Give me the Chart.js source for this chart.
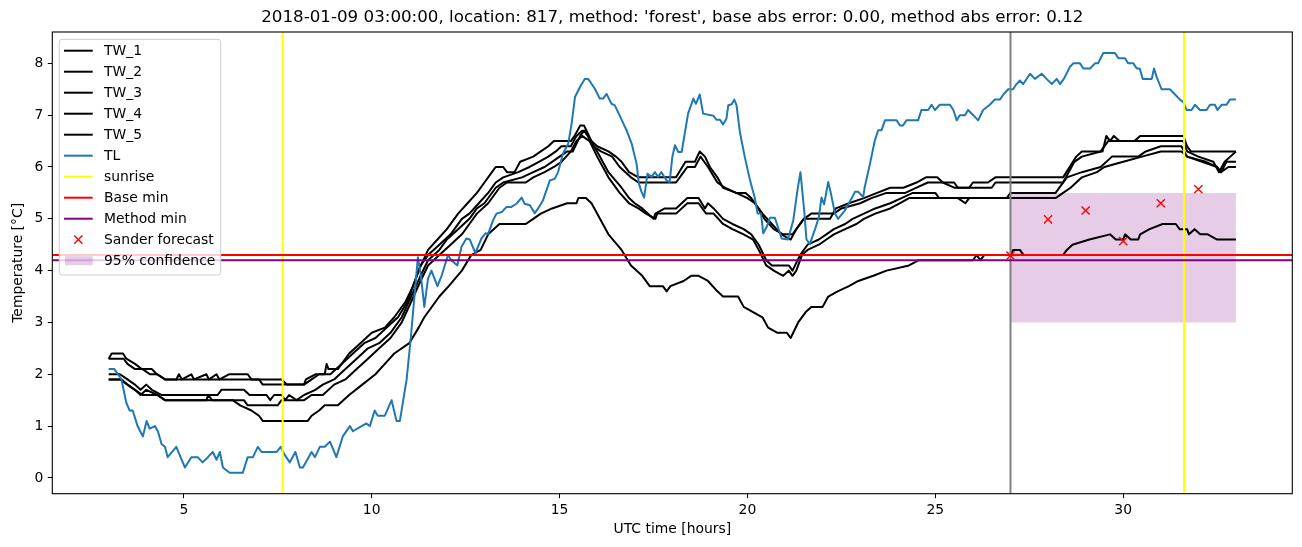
<!DOCTYPE html>
<html><head><meta charset="utf-8">
<script src="https://cdn.jsdelivr.net/npm/chart.js@4.4.1/dist/chart.umd.min.js"></script>
<style>html,body{margin:0;padding:0;background:#fff;}canvas{display:block;}</style>
</head><body>
<canvas id="c" width="1302" height="547"></canvas>
<script>
// ---------------- data ----------------
const titleText = "2018-01-09 03:00:00, location: 817, method: 'forest', base abs error: 0.00, method abs error: 0.12";

const TW_1 = [[3.0,2.3],[3.08,2.4],[3.38,2.4],[3.47,2.3],[3.7,2.2],[3.88,2.1],[4.15,2.1],[4.28,2.0],[4.5,1.9],[4.8,1.9],[4.87,2.0],[4.95,1.9],[5.2,2.0],[5.27,1.9],[5.6,2.0],[5.67,1.9],[5.87,2.0],[5.95,1.9],[6.2,2.0],[6.7,2.0],[6.8,1.9],[7.6,1.9],[7.75,1.8],[8.2,1.8],[8.25,1.9],[8.5,2.0],[8.75,2.0],[8.8,2.2],[8.85,2.1],[9.1,2.1],[9.4,2.4],[9.7,2.6],[10.0,2.8],[10.35,2.9],[10.6,3.1],[10.9,3.4],[11.1,3.7],[11.25,4.0],[11.5,4.4],[11.75,4.6],[12.0,4.8],[12.3,5.1],[12.55,5.3],[12.8,5.5],[13.0,5.7],[13.2,5.9],[13.3,6.0],[13.5,6.0],[13.6,5.9],[13.8,5.9],[13.95,6.1],[14.3,6.2],[14.5,6.3],[14.7,6.4],[14.85,6.5],[15.3,6.5],[15.4,6.6],[15.55,6.8],[15.65,6.8],[15.85,6.5],[16.0,6.4],[16.3,6.3],[16.5,6.2],[16.65,6.1],[16.85,5.9],[17.1,5.8],[18.1,5.8],[18.35,6.1],[18.6,6.1],[18.73,6.3],[18.87,6.2],[19.0,6.0],[19.2,5.8],[19.35,5.6],[19.7,5.5],[19.95,5.5],[20.1,5.4],[20.4,5.1],[20.65,4.9],[20.9,4.7],[21.15,4.6],[21.3,4.8],[21.5,5.0],[22.2,5.0],[22.35,5.2],[22.7,5.3],[23.1,5.4],[23.45,5.5],[23.8,5.6],[24.15,5.6],[24.5,5.7],[24.75,5.8],[25.05,5.8],[25.2,5.7],[25.5,5.7],[25.6,5.6],[25.9,5.6],[26.0,5.7],[26.4,5.7],[26.6,5.8],[28.4,5.8],[28.75,6.2],[28.9,6.3],[29.45,6.3],[29.55,6.6],[29.65,6.5],[29.75,6.6],[29.9,6.5],[30.3,6.5],[30.45,6.6],[31.6,6.6],[31.7,6.4],[31.8,6.3],[33.0,6.3]];

const TW_2 = [[3.0,2.3],[3.4,2.3],[3.5,2.2],[3.7,2.1],[3.9,2.1],[4.1,2.0],[4.3,2.0],[4.5,1.9],[7.0,1.9],[7.1,1.8],[8.2,1.8],[8.4,1.9],[8.6,2.0],[8.9,2.0],[9.2,2.2],[9.5,2.4],[9.8,2.6],[10.1,2.7],[10.4,2.9],[10.7,3.1],[10.95,3.4],[11.15,3.8],[11.3,4.1],[11.5,4.3],[11.8,4.5],[12.1,4.7],[12.4,5.0],[12.6,5.1],[12.85,5.3],[13.1,5.5],[13.3,5.7],[13.5,5.8],[13.9,5.9],[14.2,6.0],[14.45,6.1],[14.7,6.2],[14.9,6.3],[15.05,6.4],[15.3,6.4],[15.45,6.6],[15.6,6.7],[15.7,6.7],[15.9,6.4],[16.1,6.3],[16.4,6.2],[16.6,6.0],[16.9,5.8],[17.1,5.7],[18.1,5.7],[18.3,5.9],[18.4,6.0],[18.6,6.0],[18.75,6.2],[18.95,6.0],[19.2,5.7],[19.4,5.6],[19.7,5.5],[20.0,5.4],[20.2,5.3],[20.45,5.0],[20.7,4.8],[20.95,4.7],[21.2,4.7],[21.5,5.0],[21.7,5.1],[22.3,5.1],[22.5,5.2],[23.0,5.3],[23.3,5.4],[23.7,5.5],[24.2,5.5],[24.5,5.6],[24.8,5.7],[25.2,5.7],[25.5,5.6],[26.5,5.6],[26.6,5.7],[28.4,5.7],[28.7,6.1],[28.9,6.2],[29.4,6.3],[29.6,6.5],[31.6,6.5],[31.7,6.3],[32.0,6.2],[32.4,6.1],[32.55,5.9],[32.7,6.1],[32.85,6.2],[33.0,6.3]];

const TW_3 = [[3.0,2.0],[3.3,2.0],[3.5,1.9],[3.7,1.8],[3.85,1.7],[4.0,1.8],[4.15,1.7],[4.4,1.6],[5.9,1.6],[6.0,1.7],[6.6,1.7],[6.75,1.6],[7.2,1.6],[7.3,1.5],[7.4,1.6],[7.6,1.6],[7.7,1.5],[7.8,1.6],[8.0,1.5],[8.2,1.6],[8.5,1.7],[8.7,1.8],[9.0,1.9],[9.3,2.1],[9.6,2.3],[9.9,2.5],[10.2,2.6],[10.5,2.8],[10.8,3.1],[11.05,3.5],[11.3,3.9],[11.5,4.2],[11.8,4.4],[12.0,4.6],[12.3,4.8],[12.6,5.0],[12.8,5.2],[13.0,5.3],[13.3,5.6],[13.5,5.7],[14.0,5.8],[14.3,5.9],[14.6,6.0],[14.8,6.1],[15.0,6.2],[15.2,6.3],[15.35,6.3],[15.55,6.6],[15.65,6.7],[15.75,6.6],[16.0,6.3],[16.3,5.9],[16.65,5.6],[16.85,5.4],[17.0,5.3],[17.2,5.2],[17.5,5.0],[17.55,5.1],[17.8,5.2],[18.1,5.2],[18.4,5.4],[18.7,5.4],[18.87,5.2],[18.95,5.3],[19.1,5.2],[19.35,5.0],[19.6,4.9],[19.9,4.8],[20.1,4.7],[20.3,4.5],[20.5,4.2],[20.65,4.1],[21.1,4.1],[21.2,4.0],[21.4,4.3],[21.6,4.5],[21.9,4.6],[22.1,4.7],[22.3,4.8],[22.6,4.9],[22.8,5.0],[23.1,5.1],[23.4,5.2],[23.8,5.3],[24.1,5.4],[24.4,5.5],[25.0,5.5],[25.1,5.4],[26.9,5.4],[27.0,5.5],[28.2,5.5],[28.5,5.8],[28.9,5.9],[29.4,6.0],[29.7,6.2],[30.4,6.2],[30.6,6.3],[31.0,6.4],[31.55,6.4],[31.7,6.2],[32.1,6.1],[32.5,6.0],[32.6,5.9],[32.75,6.1],[33.0,6.1]];

const TW_4 = [[3.0,1.9],[3.35,1.9],[3.5,1.8],[3.7,1.7],[3.85,1.6],[4.0,1.7],[4.3,1.6],[4.5,1.5],[5.6,1.5],[5.65,1.6],[5.75,1.5],[6.6,1.5],[6.7,1.4],[7.5,1.4],[7.6,1.5],[8.2,1.5],[8.4,1.6],[8.7,1.6],[9.0,1.8],[9.3,1.9],[9.6,2.1],[9.9,2.3],[10.2,2.5],[10.5,2.7],[10.8,3.0],[11.05,3.4],[11.3,3.8],[11.5,4.1],[11.8,4.3],[12.1,4.5],[12.4,4.7],[12.6,4.9],[12.8,5.1],[13.1,5.3],[13.4,5.6],[13.6,5.7],[14.1,5.7],[14.3,5.8],[14.6,5.9],[14.85,6.0],[15.05,6.1],[15.3,6.3],[15.45,6.5],[15.6,6.6],[15.8,6.5],[16.0,6.2],[16.3,5.8],[16.6,5.5],[16.85,5.3],[17.1,5.2],[17.3,5.1],[17.55,5.0],[17.6,5.1],[18.1,5.1],[18.4,5.3],[18.7,5.3],[18.9,5.1],[19.1,5.1],[19.35,4.9],[19.6,4.8],[19.9,4.7],[20.15,4.6],[20.3,4.4],[20.5,4.1],[20.7,4.0],[20.95,3.9],[21.1,4.0],[21.2,3.9],[21.3,4.0],[21.45,4.3],[21.6,4.4],[21.9,4.5],[22.1,4.6],[22.3,4.7],[22.6,4.8],[22.9,4.9],[23.1,5.0],[23.4,5.1],[23.8,5.2],[24.05,5.3],[24.3,5.4],[25.6,5.4],[25.8,5.3],[25.9,5.4],[28.2,5.4],[28.4,5.5],[28.6,5.6],[28.9,5.8],[29.3,5.9],[29.5,6.0],[30.0,6.1],[30.5,6.2],[31.0,6.3],[31.55,6.3],[31.7,6.2],[32.2,6.1],[32.5,6.0],[32.6,5.9],[32.8,6.0],[33.0,6.0]];

const TW_5 = [[3.0,1.9],[3.3,1.9],[3.5,1.8],[3.7,1.7],[3.9,1.6],[4.3,1.6],[4.5,1.5],[6.3,1.5],[6.5,1.4],[6.8,1.3],[7.0,1.2],[7.1,1.1],[8.3,1.1],[8.4,1.2],[8.6,1.3],[8.75,1.4],[9.1,1.4],[9.4,1.6],[9.75,1.8],[10.1,2.0],[10.35,2.2],[10.6,2.4],[11.0,2.6],[11.25,2.9],[11.4,3.1],[11.8,3.5],[12.05,3.7],[12.4,4.0],[12.65,4.3],[12.9,4.4],[13.1,4.7],[13.4,4.9],[14.1,4.9],[14.3,5.0],[14.5,5.1],[14.8,5.2],[15.2,5.3],[15.45,5.3],[15.5,5.4],[15.7,5.4],[15.85,5.3],[16.3,4.7],[16.65,4.4],[16.9,4.1],[17.2,3.9],[17.4,3.7],[17.75,3.7],[17.85,3.6],[17.95,3.7],[18.3,3.8],[18.5,3.9],[18.7,3.9],[18.95,3.8],[19.2,3.6],[19.35,3.5],[19.75,3.5],[19.9,3.3],[20.15,3.2],[20.4,3.1],[20.55,2.9],[20.8,2.8],[21.05,2.8],[21.15,2.7],[21.35,3.0],[21.55,3.2],[21.7,3.3],[22.0,3.3],[22.15,3.5],[22.4,3.6],[22.7,3.7],[22.95,3.8],[23.35,3.9],[23.7,4.0],[24.3,4.1],[24.55,4.2],[26.0,4.2],[26.1,4.3],[26.2,4.2],[26.3,4.3],[27.0,4.3],[27.07,4.4],[27.25,4.4],[27.35,4.3],[28.4,4.3],[28.5,4.4],[28.65,4.5],[29.1,4.6],[29.65,4.7],[29.8,4.6],[30.0,4.6],[30.05,4.7],[30.2,4.6],[30.4,4.6],[30.45,4.7],[30.7,4.8],[31.05,4.9],[31.4,4.9],[31.5,4.8],[31.7,4.8],[31.75,4.7],[31.9,4.8],[32.05,4.7],[32.25,4.7],[32.5,4.6],[33.0,4.6]];

const TL = [[3.0,2.1],[3.15,2.1],[3.25,2.0],[3.34,1.9],[3.47,1.45],[3.56,1.3],[3.64,1.3],[3.77,1.0],[3.91,0.8],[4.01,1.1],[4.09,0.95],[4.23,1.0],[4.31,0.9],[4.41,0.65],[4.5,0.6],[4.57,0.4],[4.8,0.6],[5.03,0.2],[5.2,0.4],[5.37,0.4],[5.5,0.3],[5.64,0.4],[5.77,0.5],[5.87,0.35],[5.96,0.5],[6.04,0.2],[6.22,0.1],[6.57,0.1],[6.7,0.4],[6.84,0.4],[6.97,0.6],[7.07,0.5],[7.47,0.5],[7.58,0.6],[7.68,0.45],[7.82,0.3],[7.97,0.5],[8.09,0.2],[8.17,0.2],[8.4,0.5],[8.49,0.4],[8.62,0.6],[8.75,0.6],[8.89,0.7],[9.06,0.4],[9.23,0.8],[9.42,1.0],[9.5,0.9],[9.73,1.0],[9.86,1.05],[9.95,1.0],[10.08,1.3],[10.16,1.2],[10.35,1.2],[10.53,1.5],[10.66,1.1],[10.75,1.1],[10.93,1.9],[11.04,2.7],[11.15,3.6],[11.23,4.26],[11.31,3.9],[11.4,3.3],[11.5,3.85],[11.59,4.0],[11.75,3.7],[11.86,3.9],[12.03,4.3],[12.12,4.2],[12.28,4.1],[12.39,4.46],[12.52,4.62],[12.61,4.6],[12.76,4.34],[12.92,4.62],[13.03,4.72],[13.1,4.71],[13.23,4.97],[13.32,5.1],[13.46,5.13],[13.59,5.23],[13.72,5.23],[13.85,5.29],[13.99,5.41],[14.07,5.29],[14.21,5.26],[14.34,5.11],[14.43,5.2],[14.56,5.36],[14.65,5.55],[14.74,5.74],[14.87,5.77],[14.96,5.9],[15.09,6.26],[15.23,6.45],[15.32,6.83],[15.41,7.35],[15.54,7.54],[15.67,7.7],[15.76,7.7],[15.94,7.51],[16.07,7.32],[16.16,7.32],[16.25,7.41],[16.38,7.22],[16.47,7.19],[16.6,6.99],[16.78,6.71],[16.92,6.45],[17.05,6.06],[17.11,5.68],[17.18,5.52],[17.25,5.41],[17.34,5.87],[17.45,5.81],[17.54,5.9],[17.62,5.81],[17.71,5.9],[17.85,5.74],[17.93,5.71],[18.0,6.19],[18.07,6.42],[18.16,6.29],[18.25,6.29],[18.33,6.64],[18.42,7.03],[18.56,7.32],[18.63,7.22],[18.73,7.4],[18.82,7.03],[19.09,6.99],[19.18,6.91],[19.27,6.91],[19.35,6.82],[19.44,6.93],[19.49,7.19],[19.58,7.21],[19.65,7.3],[19.71,7.19],[19.8,6.67],[19.93,6.19],[20.06,5.77],[20.2,5.39],[20.27,5.1],[20.36,5.1],[20.42,4.72],[20.51,4.84],[20.6,5.02],[20.73,5.02],[20.91,4.62],[21.08,4.6],[21.22,4.97],[21.33,5.55],[21.41,5.9],[21.51,5.16],[21.57,4.6],[21.66,4.51],[21.79,4.78],[21.9,5.03],[21.97,5.41],[22.04,5.28],[22.15,5.71],[22.22,5.49],[22.33,5.1],[22.41,5.0],[22.59,5.16],[22.77,5.39],[22.86,5.52],[22.95,5.52],[23.08,5.42],[23.12,5.61],[23.26,6.06],[23.39,6.51],[23.48,6.71],[23.57,6.71],[23.66,6.9],[23.97,6.9],[24.06,6.8],[24.14,6.8],[24.23,6.9],[24.54,6.9],[24.63,7.1],[24.81,7.1],[24.9,7.2],[24.99,7.1],[25.12,7.2],[25.39,7.2],[25.48,7.1],[25.57,6.9],[25.65,7.0],[25.79,7.0],[25.87,7.1],[26.01,7.0],[26.14,6.9],[26.27,7.1],[26.45,7.2],[26.58,7.3],[26.72,7.3],[26.81,7.4],[26.94,7.5],[27.07,7.5],[27.16,7.6],[27.25,7.67],[27.34,7.6],[27.52,7.8],[27.65,7.7],[27.83,7.8],[27.96,7.7],[28.1,7.6],[28.23,7.7],[28.32,7.6],[28.42,7.7],[28.58,7.93],[28.67,8.0],[28.85,8.0],[28.94,7.9],[29.12,7.9],[29.25,8.0],[29.33,8.0],[29.47,8.2],[29.78,8.2],[29.87,8.1],[30.05,8.1],[30.13,8.0],[30.27,8.0],[30.36,7.9],[30.44,7.9],[30.52,7.7],[30.76,7.7],[30.82,7.9],[30.89,7.74],[31.02,7.5],[31.24,7.5],[31.38,7.4],[31.51,7.3],[31.6,7.25],[31.69,7.1],[31.82,7.1],[31.91,7.2],[32.04,7.1],[32.22,7.1],[32.31,7.2],[32.44,7.2],[32.51,7.1],[32.62,7.2],[32.75,7.2],[32.84,7.3],[33.0,7.3]];

const sunriseHours = [7.63, 31.62];
const forecastIssueHour = 27.0;
const baseMin = 4.3;
const methodMin = 4.2;
const forecastHours = [27, 28, 29, 30, 31, 32];
const forecastValues = [4.29, 4.99, 5.16, 4.57, 5.30, 5.57];
const confHours = [27, 33];
const confLow = 3.0;
const confHigh = 5.5;
const xTicks = [5, 10, 15, 20, 25, 30];
const yTicks = [0, 1, 2, 3, 4, 5, 6, 7, 8];
const xRange = [1.5, 34.5];
const yRange = [-0.305, 8.605];

// ---------------- build ----------------
const pts = arr => arr.map(p => ({x: p[0], y: p[1]}));
const vline = h => [{x: h, y: yRange[0]}, {x: h, y: yRange[1]}];
const hline = v => [{x: xRange[0], y: v}, {x: xRange[1], y: v}];
const LW = 2;
const FS = 13.9;
const lineDs = (label, data, color, order, legend) => ({
  label, data, borderColor: color, backgroundColor: color, borderWidth: LW,
  pointRadius: 0, tension: 0, fill: false, order, borderJoinStyle: 'round',
  legendKind: legend === false ? null : 'line'
});

const datasets = [
  lineDs('TW_1', pts(TW_1), '#000000', 15),
  lineDs('TW_2', pts(TW_2), '#000000', 14),
  lineDs('TW_3', pts(TW_3), '#000000', 13),
  lineDs('TW_4', pts(TW_4), '#000000', 12),
  lineDs('TW_5', pts(TW_5), '#000000', 11),
  lineDs('TL', pts(TL), '#1f77b4', 10),
  lineDs('sunrise', vline(sunriseHours[0]), '#ffff00', 8),
  lineDs('sunrise2', vline(sunriseHours[1]), '#ffff00', 8, false),
  lineDs('Base min', hline(baseMin), '#ff0000', 7),
  lineDs('Method min', hline(methodMin), '#800080', 6),
  lineDs('issue', vline(forecastIssueHour), '#808080', 9, false),
  {
    label: 'Sander forecast', data: forecastHours.map((h, i) => ({x: h, y: forecastValues[i]})),
    showLine: false, pointStyle: 'crossRot', pointRadius: 5.8, borderColor: '#ff0000',
    backgroundColor: '#ff0000', pointBorderWidth: 1.4, borderWidth: 1.4, order: 5, legendKind: 'marker'
  },
  {
    label: '95% confidence', data: confHours.map(h => ({x: h, y: confHigh})),
    borderWidth: 0, pointRadius: 0, fill: {value: confLow},
    backgroundColor: 'rgba(128,0,128,0.2)', borderColor: 'rgba(0,0,0,0)', order: 20, legendKind: 'patch'
  }
];

const decor = {
  id: 'decor',
  afterDraw(chart) {
    const {ctx, chartArea: a} = chart;
    ctx.save();
    ctx.strokeStyle = '#000'; ctx.lineWidth = 1.1;
    ctx.strokeRect(a.left, a.top, a.right - a.left, a.bottom - a.top);
    ctx.fillStyle = '#000';
    ctx.font = '16.7px "DejaVu Sans"';
    ctx.textAlign = 'center'; ctx.textBaseline = 'middle';
    ctx.fillText(titleText, (a.left + a.right) / 2, 18);

    // legend (matplotlib style, upper left inside axes)
    const items = chart.data.datasets.filter(d => d.legendKind);
    const bx = 59.3, by = 39.3, bw = 161.4, bh = 235.7, r = 3;
    ctx.beginPath();
    ctx.moveTo(bx + r, by); ctx.lineTo(bx + bw - r, by); ctx.arcTo(bx + bw, by, bx + bw, by + r, r);
    ctx.lineTo(bx + bw, by + bh - r); ctx.arcTo(bx + bw, by + bh, bx + bw - r, by + bh, r);
    ctx.lineTo(bx + r, by + bh); ctx.arcTo(bx, by + bh, bx, by + bh - r, r);
    ctx.lineTo(bx, by + r); ctx.arcTo(bx, by, bx + r, by, r); ctx.closePath();
    ctx.fillStyle = 'rgba(255,255,255,0.8)'; ctx.fill();
    ctx.strokeStyle = '#cccccc'; ctx.lineWidth = 1; ctx.stroke();

    ctx.font = FS + 'px "DejaVu Sans"';
    ctx.textAlign = 'left'; ctx.textBaseline = 'middle';
    items.forEach((d, i) => {
      const y = by + 11.4 + i * 21.0;
      const x0 = bx + 4.7, x1 = bx + 33.4;
      if (d.legendKind === 'line') {
        ctx.strokeStyle = d.borderColor; ctx.lineWidth = LW;
        ctx.beginPath(); ctx.moveTo(x0, y); ctx.lineTo(x1, y); ctx.stroke();
      } else if (d.legendKind === 'marker') {
        const cx = (x0 + x1) / 2, s = 4.1;
        ctx.strokeStyle = d.borderColor; ctx.lineWidth = 1.4;
        ctx.beginPath(); ctx.moveTo(cx - s, y - s); ctx.lineTo(cx + s, y + s);
        ctx.moveTo(cx - s, y + s); ctx.lineTo(cx + s, y - s); ctx.stroke();
      } else if (d.legendKind === 'patch') {
        ctx.fillStyle = d.backgroundColor;
        ctx.fillRect(x0 + 1, y - 4.5, x1 - x0 - 1, 9);
      }
      ctx.fillStyle = '#000';
      ctx.fillText(d.label, bx + 44.7, y + 0.5);
    });
    ctx.restore();
  }
};

Chart.defaults.font.family = '"DejaVu Sans"';
Chart.defaults.color = '#000';

new Chart(document.getElementById('c'), {
  type: 'line',
  data: {datasets},
  options: {
    responsive: false, animation: false, devicePixelRatio: 1,
    layout: {padding: {top: 32, right: 9.7, left: 0, bottom: 0}},
    plugins: {legend: {display: false}, title: {display: false}, tooltip: {enabled: false}},
    scales: {
      x: {
        type: 'linear', min: xRange[0], max: xRange[1],
        afterBuildTicks: s => { s.ticks = xTicks.map(v => ({value: v})); },
        afterFit: s => { s.height = 53.3; },
        grid: {drawOnChartArea: false, drawTicks: true, tickLength: 4.5, tickColor: '#000', tickWidth: 1},
        border: {display: false},
        ticks: {font: {size: FS}, color: '#000', padding: 3.5, maxRotation: 0},
        title: {display: true, text: 'UTC time [hours]', font: {size: FS}, color: '#000', padding: {top: 0, bottom: 9.7}}
      },
      y: {
        type: 'linear', min: yRange[0], max: yRange[1],
        afterBuildTicks: s => { s.ticks = yTicks.map(v => ({value: v})); },
        afterFit: s => { s.width = 52.3; },
        grid: {drawOnChartArea: false, drawTicks: true, tickLength: 4.5, tickColor: '#000', tickWidth: 1},
        border: {display: false},
        ticks: {font: {size: FS}, color: '#000', padding: 4.5},
        title: {display: true, text: 'Temperature [°C]', font: {size: FS}, color: '#000', padding: {top: 9.7, bottom: 0}}
      }
    }
  },
  plugins: [decor]
});
</script>
</body></html>
